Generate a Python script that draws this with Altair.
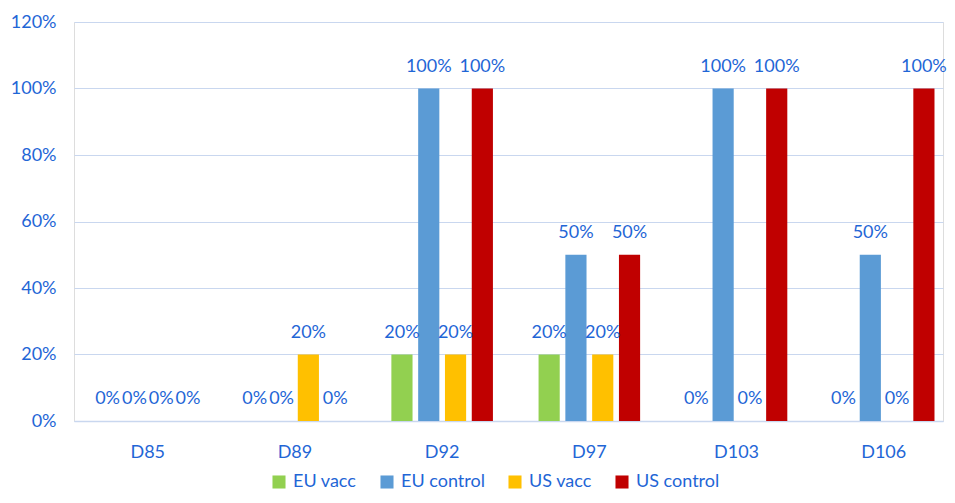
import altair as alt
import pandas as pd

days = ["D85", "D89", "D92", "D97", "D103", "D106"]
series = ["EU vacc", "EU control", "US vacc", "US control"]
colors = ["#92D050", "#5B9BD5", "#FFC000", "#C00000"]
eu_vacc = [0, 0, 20, 20, 0, 0]
eu_control = [0, 0, 100, 50, 100, 50]
us_vacc = [0, 20, 20, 20, 0, 0]
us_control = [0, 0, 100, 50, 100, 100]

rows = []
for i, d in enumerate(days):
    for s, vals in zip(series, [eu_vacc, eu_control, us_vacc, us_control]):
        rows.append({"day": d, "series": s, "value": vals[i] / 100.0,
                     "label": f"{vals[i]}%"})
df = pd.DataFrame(rows)

BLUE = "#1F66D6"
FONT = "Lato"
FS = 18

x = alt.X("day:N", sort=days, title=None,
          scale=alt.Scale(paddingInner=0.31, paddingOuter=0.107, align=0.73),
          axis=alt.Axis(labelAngle=0, labelColor=BLUE, labelFont=FONT, labelFontSize=FS,
                        labelPadding=22, ticks=False, domainColor="#C9D7EF", domainWidth=1.5))
xo = alt.XOffset("series:N", sort=series, scale=alt.Scale(paddingInner=0.21, paddingOuter=0))

bars = alt.Chart(df).mark_bar().encode(
    x=x, xOffset=xo,
    y=alt.Y("value:Q", title=None,
            scale=alt.Scale(domain=[0, 1.2]),
            axis=alt.Axis(format=".0%", values=[0, 0.2, 0.4, 0.6, 0.8, 1.0, 1.2],
                          labelColor=BLUE, labelFont=FONT, labelFontSize=FS,
                          labelPadding=18, ticks=False, domain=False,
                          gridColor="#C9D7EF", gridWidth=1.2)),
    color=alt.Color("series:N", sort=series,
                    scale=alt.Scale(domain=series, range=colors),
                    legend=alt.Legend(title=None, orient="none", direction="horizontal",
                                      legendX=196, legendY=451, symbolType="square",
                                      symbolSize=170, symbolStrokeWidth=0,
                                      labelColor=BLUE, labelFont=FONT, labelFontSize=FS,
                                      columnPadding=21, labelOffset=5)),
)

text = alt.Chart(df).mark_text(baseline="middle", dy=-22, fontSize=FS, font=FONT,
                               color=BLUE).encode(
    x=x, xOffset=xo, y="value:Q", text="label:N")

chart = alt.layer(bars, text).properties(
    width=869, height=399,
    autosize=alt.AutoSizeParams(type="none"),
    padding={"left": 66, "top": 14, "right": 4, "bottom": 74},
).configure_view(stroke=None).configure(background="white")

chart.save("out.html", embed_options={"renderer": "svg", "actions": False})
